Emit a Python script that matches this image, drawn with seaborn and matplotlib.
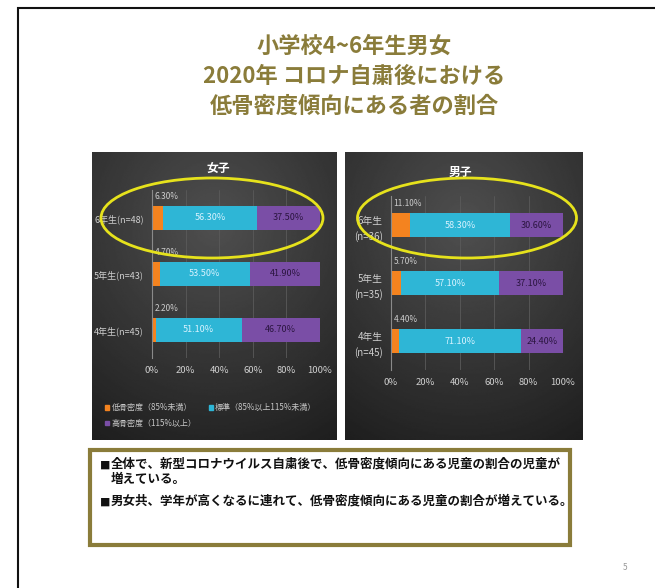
import numpy as np
import pandas as pd
import matplotlib
matplotlib.use("Agg")
import matplotlib.pyplot as plt
from matplotlib.patches import Rectangle, Ellipse, Patch
import seaborn as sns

sns.set_theme(style="white")
plt.rcParams['font.family'] = ['Noto Sans CJK JP', 'DejaVu Sans']

# ---------------- data ----------------
girls_labels = ["6年生(n=48)", "5年生(n=43)", "4年生(n=45)"]
girls_low = [6.3, 4.7, 2.2]
girls_std = [56.3, 53.5, 51.1]
girls_high = [37.5, 41.9, 46.7]

boys_labels = ["6年生\n(n=36)", "5年生\n(n=35)", "4年生\n(n=45)"]
boys_low = [11.1, 5.7, 4.4]
boys_std = [58.3, 57.1, 71.1]
boys_high = [30.6, 37.1, 24.4]

series_names = ["低骨密度（85%未満）", "標準（85%以上115%未満）", "高骨密度（115%以上）"]
x_ticks = [0, 20, 40, 60, 80, 100]
title_lines = ["小学校4~6年生男女", "2020年 コロナ自粛後における", "低骨密度傾向にある者の割合"]
notes = ["全体で、新型コロナウイルス自粛後で、低骨密度傾向にある児童の割合の児童が\n増えている。",
         "男女共、学年が高くなるに連れて、低骨密度傾向にある児童の割合が増えている。"]

C_LOW = "#F4831F"
C_STD = "#2EB6D6"
C_HIGH = "#7A4EA6"
OLIVE = "#8A7C3A"

W, H = 655, 588
fig = plt.figure(figsize=(W / 100, H / 100), dpi=100)
fig.patch.set_facecolor("white")


def fx(px):
    return px / W


def fy(py):
    return 1 - py / H


def box(x0, y0, x1, y1):
    return [fx(x0), fy(y1), fx(x1) - fx(x0), fy(y0) - fy(y1)]


# outer frame
fig.patches.append(Rectangle((fx(18), fy(700)), fx(700), fy(8) - fy(700),
                             transform=fig.transFigure, fill=False,
                             edgecolor="#111111", lw=1.5, zorder=0))

# titles
for i, t in enumerate(title_lines):
    fig.text(fx(354), fy(46 + i * 30), t, ha="center", va="center",
             fontsize=16, fontweight="bold", color=OLIVE)


def panel_bg(rect):
    bg = fig.add_axes(box(*rect), zorder=0)
    yy, xx = np.mgrid[0:1:200j, 0:1:200j]
    r = np.sqrt((xx - 0.5) ** 2 * 1.0 + (yy - 0.25) ** 2 * 1.2)
    img = 0.31 - 0.20 * r
    bg.imshow(img, cmap="gray", vmin=0, vmax=1, aspect="auto",
              extent=[0, 1, 1, 0])
    bg.set_axis_off()


panel_bg((92, 152, 337, 440))
panel_bg((345, 152, 583, 440))


def draw_chart(ax_rect, labels, low, std, high, title, title_xy, ylab_size):
    ax = fig.add_axes(box(*ax_rect), zorder=2)
    ax.set_facecolor("none")
    low = np.array(low)
    std = np.array(std)
    high = np.array(high)
    df = pd.DataFrame({"grade": labels, "low": low,
                       "ls": low + std, "all": low + std + high})
    sns.barplot(data=df, y="grade", x="all", order=labels, color=C_HIGH,
                saturation=1, width=0.42, orient="h", ax=ax, edgecolor="none")
    sns.barplot(data=df, y="grade", x="ls", order=labels, color=C_STD,
                saturation=1, width=0.42, orient="h", ax=ax, edgecolor="none")
    sns.barplot(data=df, y="grade", x="low", order=labels, color=C_LOW,
                saturation=1, width=0.42, orient="h", ax=ax, edgecolor="none")
    ax.set_xlim(0, 100)
    ax.set_ylim(2.5, -0.5)
    ax.set_xticks(x_ticks)
    ax.set_xticklabels([f"{v}%" for v in x_ticks])
    ax.grid(axis="x", color="#5a5a5a", lw=0.6)
    ax.set_axisbelow(True)
    for s in ["top", "right", "bottom"]:
        ax.spines[s].set_visible(False)
    ax.spines["left"].set_color("#8a8a8a")
    ax.spines["left"].set_linewidth(0.8)
    ax.tick_params(axis="both", colors="#cfcfcf", labelsize=6.8, length=0,
                   pad=6)
    ax.tick_params(axis="y", labelsize=ylab_size)
    for t in ax.get_yticklabels():
        t.set_linespacing(1.6)
    ax.set_xlabel("")
    ax.set_ylabel("")
    for i in range(len(labels)):
        ax.text(1.5, i - 0.30, f"{low[i]:.2f}%", color="#cccccc",
                fontsize=6, ha="left", va="bottom")
        ax.text(low[i] + std[i] / 2, i, f"{std[i]:.2f}%", color="#d8f3ff",
                fontsize=6.5, ha="center", va="center")
        ax.text(low[i] + std[i] + high[i] / 2, i, f"{high[i]:.2f}%",
                color="#2b1540", fontsize=6.5, ha="center", va="center")
    fig.text(fx(title_xy[0]), fy(title_xy[1]), title, ha="center",
             va="center", color="white", fontsize=8.5, fontweight="bold")
    return ax


axL = draw_chart((152, 190, 320, 358), girls_labels, girls_low, girls_std,
                 girls_high, "女子", (218, 168), 6.5)
axR = draw_chart((391, 196, 563, 370), boys_labels, boys_low, boys_std,
                 boys_high, "男子", (460, 172), 7)

handles = [Patch(color=C_LOW, label=series_names[0]),
           Patch(color=C_HIGH, label=series_names[2]),
           Patch(color=C_STD, label=series_names[1])]
leg = axL.legend(handles=handles, loc="upper left",
                 bbox_to_anchor=(fx(98), fy(396)),
                 bbox_transform=fig.transFigure, ncol=2, frameon=False,
                 fontsize=5.8, handlelength=0.5, handleheight=0.5,
                 handletextpad=0.3, columnspacing=1.5, labelspacing=0.8)
for t in leg.get_texts():
    t.set_color("#c8c8c8")

# highlight ellipses
for cx, cy, w, h in [(212, 218, 222, 80), (467, 218, 219, 80)]:
    fig.patches.append(Ellipse((fx(cx), fy(cy)), fx(w), h / H,
                               transform=fig.transFigure, fill=False,
                               edgecolor="#E6E21C", lw=2.0, zorder=5))

# note box
fig.patches.append(Rectangle((fx(90), fy(545)), fx(480), (545 - 450) / H,
                             transform=fig.transFigure, facecolor="white",
                             edgecolor=OLIVE, lw=3, zorder=1))
note_y = [466, 503]
for y, t in zip(note_y, notes):
    fig.text(fx(100), fy(y), "■", fontsize=7.5, color="#111111",
             ha="left", va="center", zorder=6)
    fig.text(fx(111), fy(y - 8), t, fontsize=9, color="#111111",
             fontweight="bold", ha="left", va="top", linespacing=1.15,
             zorder=6)

fig.text(fx(625), fy(568), "5", fontsize=6, color="#999999", ha="center",
         va="center")

fig.savefig("out.png", dpi=100)
